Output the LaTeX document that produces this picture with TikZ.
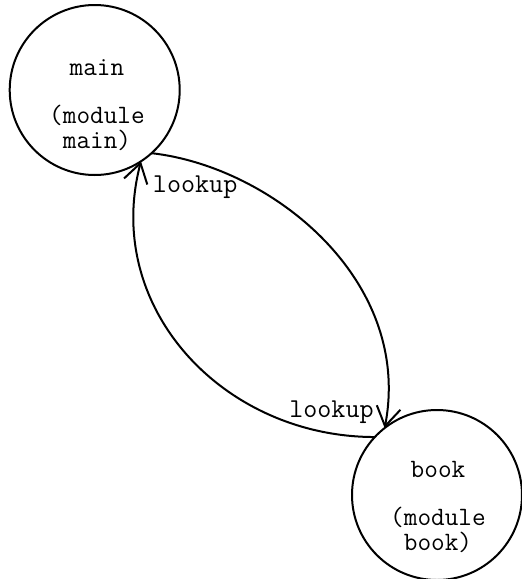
\documentclass[tikz,border=0pt]{standalone}
\usetikzlibrary{arrows.meta}
\begin{document}
\begin{tikzpicture}[x=1pt,y=-1pt,
  state/.style={circle, draw, line width=2pt, minimum size=170pt, inner sep=0pt, outer sep=0pt},
  statetext/.style={font=\ttfamily\fontsize{26.5}{25}\selectfont, align=center, inner sep=0pt},
  edge/.style={line width=2pt, -{Straight Barb[length=19pt,width=24pt]}},
  elabel/.style={font=\ttfamily\fontsize{27.3}{24}\selectfont, inner sep=0pt}]
\useasboundingbox (0,0) rectangle (522,579);
\node[state] (main) at (94.7,90) {};
\node[statetext] (maintext) at (97,105) {main\\[-1pt]\mbox{}\\[-1pt](module\\main)};
\node[state] (book) at (437,495) {};
\node[statetext] (booktext) at (438,507) {book\\[-1pt]\mbox{}\\[-1pt](module\\book)};
\draw[edge] (main.-48) .. controls (273,167) and (413,281) .. (book.128.9)
  node[elabel, pos=1, anchor=base east, xshift=-10pt, yshift=11pt] (lbl1) {lookup};
\draw[edge] (book.137.8) .. controls (223,437) and (102.5,307.5) .. (main.-57.8)
  node[elabel, pos=1, anchor=base west, xshift=11pt, yshift=-31pt] (lbl2) {lookup};
\end{tikzpicture}
\end{document}
